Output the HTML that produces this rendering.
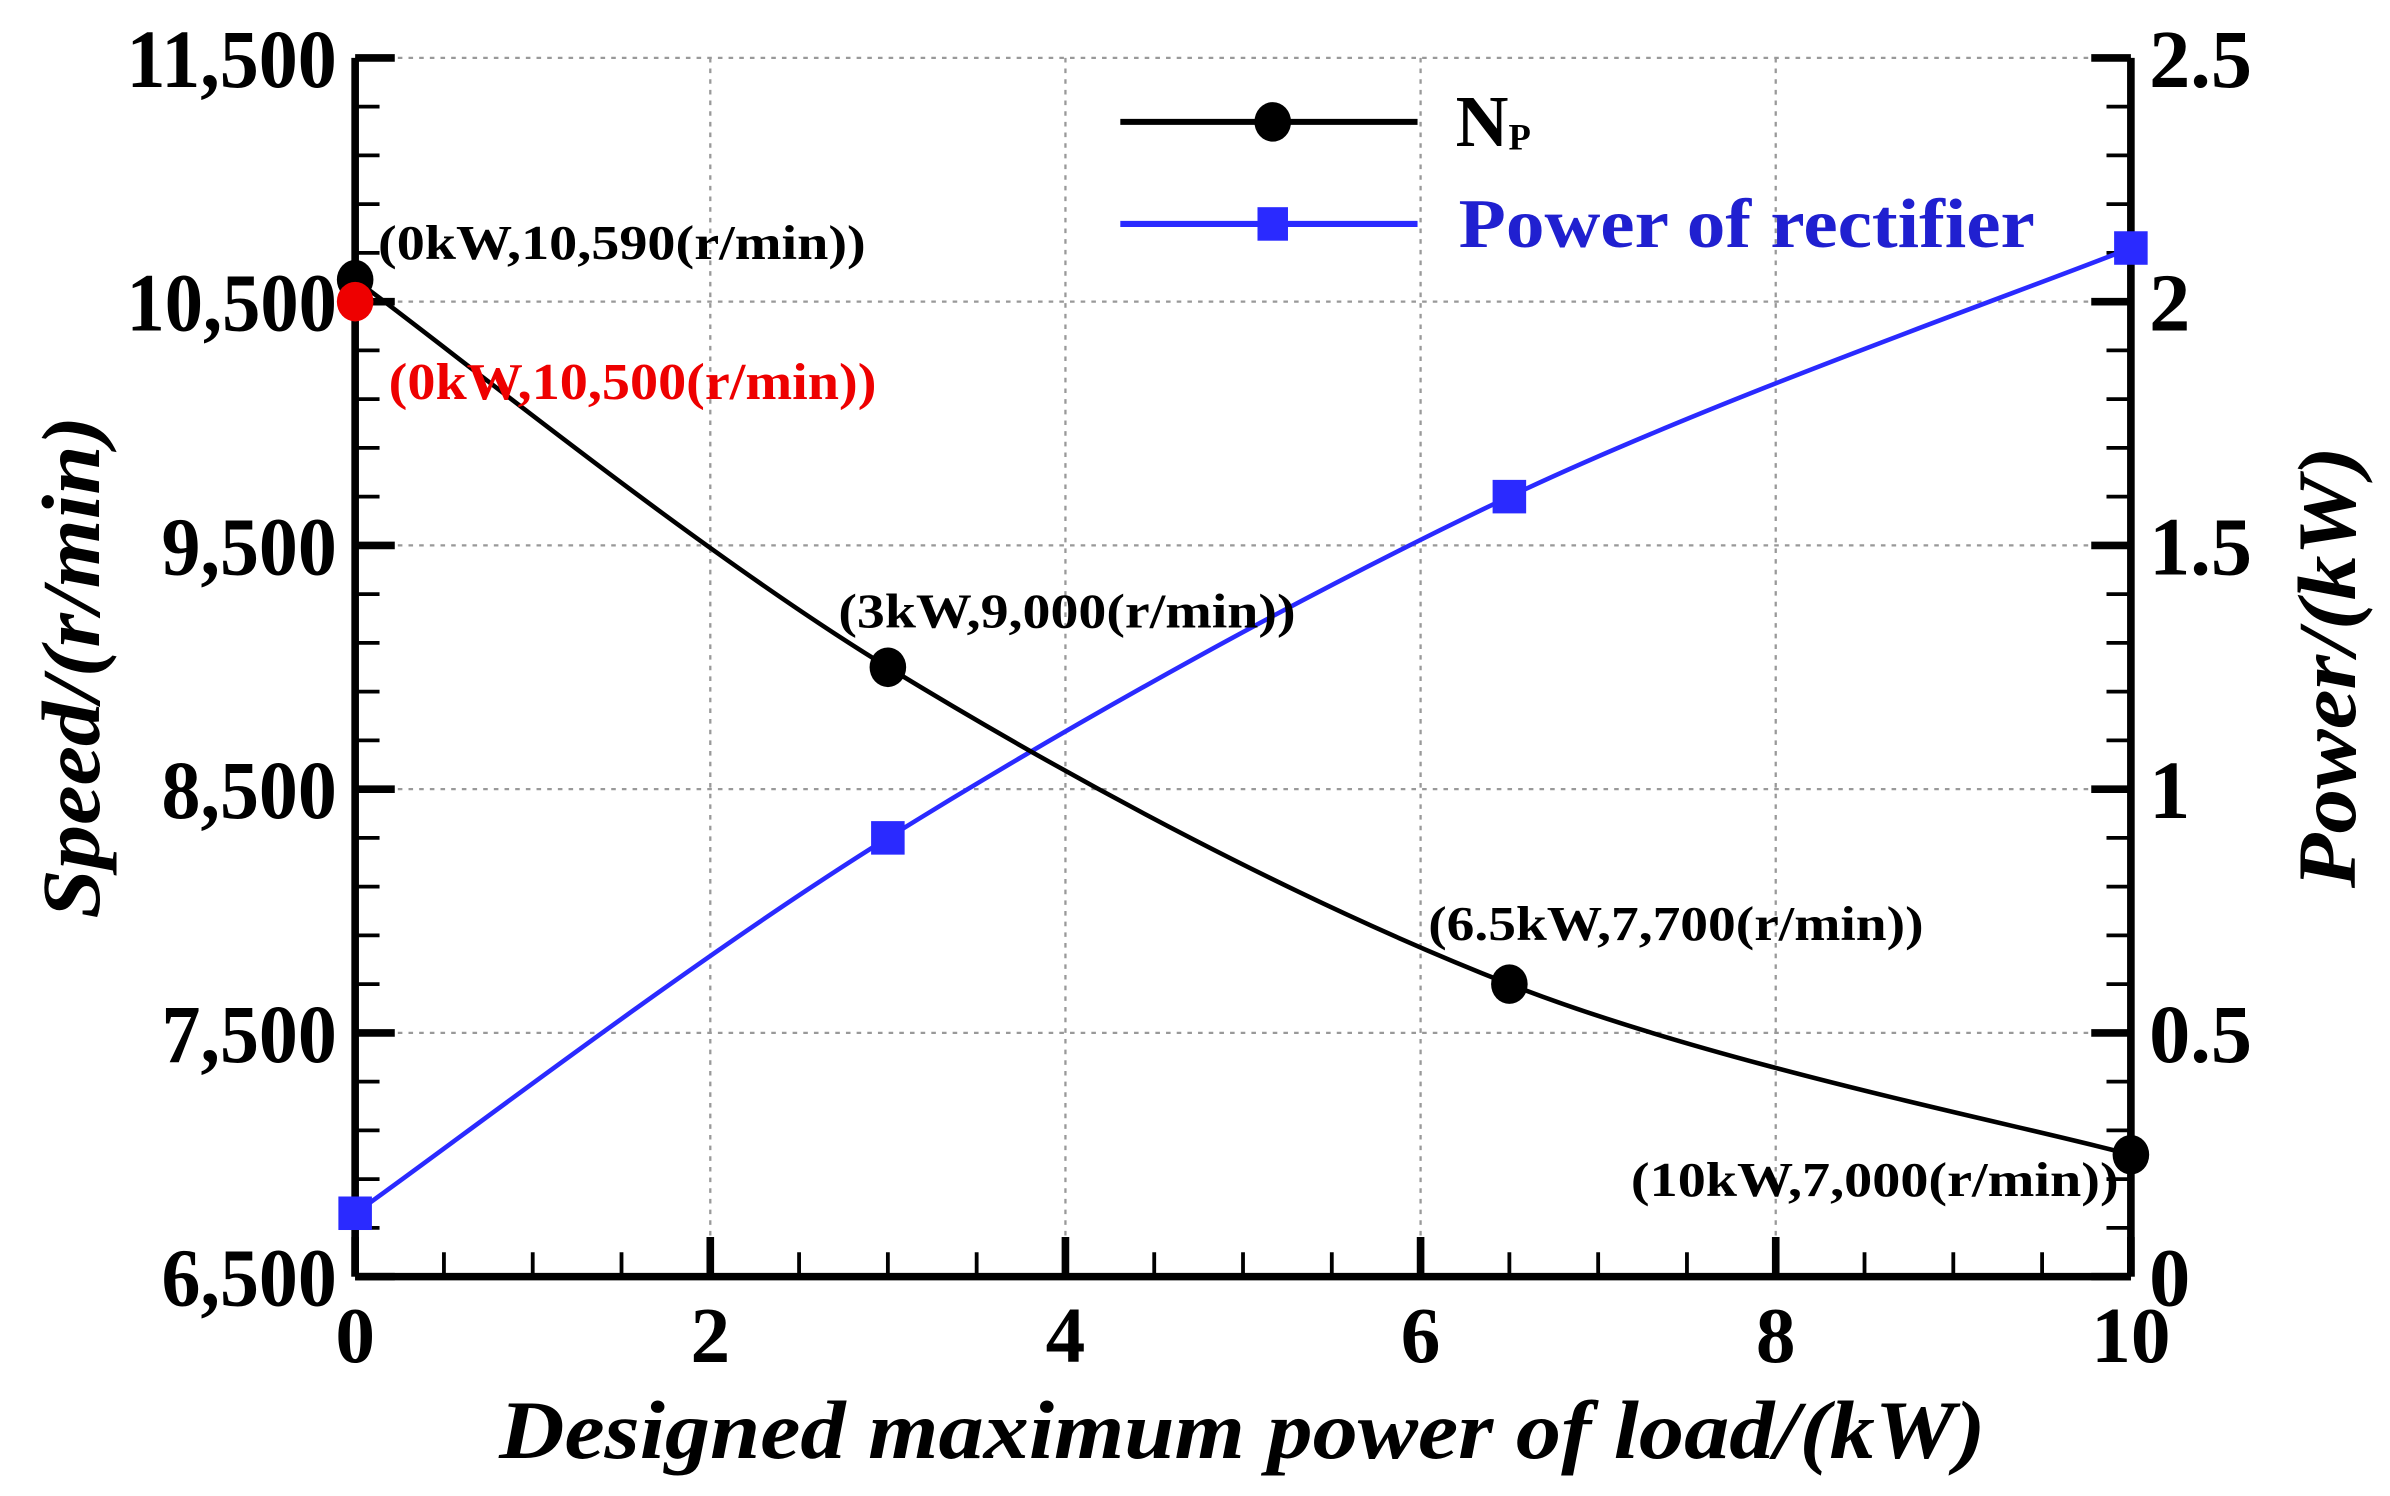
<!DOCTYPE html>
<html><head><meta charset="utf-8"><style>
html,body{margin:0;padding:0;background:#fff;}
svg{display:block;}
text{font-family:"Liberation Serif","Times New Roman",serif;font-weight:bold;}
</style></head><body>
<svg id="chart" width="2390" height="1496" viewBox="0 0 1568 982" preserveAspectRatio="none" xmlns="http://www.w3.org/2000/svg">
<g id="grid"></g>
<g id="axes"></g>
<g id="series"></g>
<g id="labels"></g>
<g>
  <line x1="735" y1="80" x2="930" y2="80" stroke="#000" stroke-width="4"/>
  <ellipse cx="835" cy="80" rx="12" ry="13" fill="#000"/>
  <text x="955" y="96" font-size="48">N<tspan font-size="24" dy="2">P</tspan></text>
  <line x1="735" y1="147" x2="930" y2="147" stroke="#2a2aff" stroke-width="4"/>
  <rect x="825" y="136" width="20" height="22" fill="#2a2aff"/>
  <text x="957" y="162" font-size="46" fill="#2020d0" textLength="378" lengthAdjust="spacingAndGlyphs">Power of rectifier</text>
</g>
<text x="815" y="957" font-size="54" font-style="italic" text-anchor="middle" textLength="975" lengthAdjust="spacingAndGlyphs">Designed maximum power of load/(kW)</text>
<text transform="translate(65,438) rotate(-90)" font-size="54" font-style="italic" text-anchor="middle" textLength="330" lengthAdjust="spacingAndGlyphs">Speed/(r/min)</text>
<text transform="translate(1545,438) rotate(-90)" font-size="54" font-style="italic" text-anchor="middle" textLength="290" lengthAdjust="spacingAndGlyphs">Power/(kW)</text>
</svg>
<script>
const xTicks=[0,2,4,6,8,10];
const speedTicks=[6500,7500,8500,9500,10500,11500];
const speedTickLabels=["6,500","7,500","8,500","9,500","10,500","11,500"];
const powerTicks=[0,0.5,1,1.5,2,2.5];
const powerTickLabels=["0","0.5","1","1.5","2","2.5"];
const loadKW=[0,3,6.5,10];
const speedNp=[10590,9000,7700,7000];
const powerRect=[0.13,0.9,1.6,2.11];
const annotations=["(0kW,10,590(r/min))","(3kW,9,000(r/min))","(6.5kW,7,700(r/min))","(10kW,7,000(r/min))"];
const refPoint=[0,10500];
const refLabel="(0kW,10,500(r/min))";

const L=233,R=1398,T=38,B=838;
const X=v=>L+(v-0)/(10-0)*(R-L);
const YS=v=>B-(v-6500)/(11500-6500)*(B-T);
const YP=v=>B-(v-0)/2.5*(B-T);
const NS="http://www.w3.org/2000/svg";
function mk(tag,attrs,parent){const e=document.createElementNS(NS,tag);for(const k in attrs)e.setAttribute(k,attrs[k]);document.getElementById(parent).appendChild(e);return e;}

xTicks.slice(1,-1).forEach(v=>{const e=mk('line',{x1:X(v),x2:X(v),y1:T,y2:B,stroke:'#999','stroke-width':1.5,'stroke-dasharray':'3,4'},'grid');

});
speedTicks.slice(1).forEach(v=>{const e=mk('line',{x1:L,x2:R,y1:YS(v),y2:YS(v),stroke:'#999','stroke-width':1.5,'stroke-dasharray':'3,4'},'grid');

});

[[L,T,L,B,'left-y-axis'],[R,T,R,B,'right-y-axis'],[L,B,R,B,'x-axis']].forEach(a=>{const e=mk('line',{x1:a[0],y1:a[1],x2:a[2],y2:a[3],stroke:'#000','stroke-width':5},'axes');

});
for(let v=0;v<=10.001;v+=0.5){const maj=Math.abs(v/2-Math.round(v/2))<1e-6;const e=mk('line',{x1:X(v),x2:X(v),y1:B,y2:B-(maj?26:16),stroke:'#000','stroke-width':maj?5:2.5},'axes');

}
for(let v=6500;v<=11500;v+=200){const maj=(v-6500)%1000===0;const e=mk('line',{x1:L,x2:L+(maj?26:16),y1:YS(v),y2:YS(v),stroke:'#000','stroke-width':maj?5:2.5},'axes');

}
for(let i=0;i<=25;i++){const v=i/10;const maj=i%5===0;const e=mk('line',{x1:R,x2:R-(maj?26:16),y1:YP(v),y2:YP(v),stroke:'#000','stroke-width':maj?5:2.5},'axes');

}
xTicks.forEach(v=>{const e=mk('text',{x:X(v),y:B+56,'font-size':52,'text-anchor':'middle'},'labels');e.textContent=String(v);

});
speedTicks.forEach((v,i)=>{const lab=speedTickLabels[i];const e=mk('text',{x:L-12,y:YS(v)+19,'font-size':54,'text-anchor':'end',textLength:lab.length*23,lengthAdjust:'spacingAndGlyphs'},'labels');e.textContent=lab;

});
powerTicks.forEach((v,i)=>{const e=mk('text',{x:R+12,y:YP(v)+19,'font-size':54},'labels');e.textContent=powerTickLabels[i];

});

function spline(pts){let d='M'+pts[0][0]+','+pts[0][1];for(let i=0;i<pts.length-1;i++){const p0=pts[Math.max(i-1,0)],p1=pts[i],p2=pts[i+1],p3=pts[Math.min(i+2,pts.length-1)];
const c1=[p1[0]+(p2[0]-p0[0])/6,p1[1]+(p2[1]-p0[1])/6],c2=[p2[0]-(p3[0]-p1[0])/6,p2[1]-(p3[1]-p1[1])/6];d+=' C'+c1+' '+c2+' '+p2;}return d;}
const pp=loadKW.map((x,i)=>[X(x),YP(powerRect[i])]);
let e=mk('path',{d:spline(pp),fill:'none',stroke:'#2a2aff','stroke-width':3},'series');


const sp=loadKW.map((x,i)=>[X(x),YS(speedNp[i])]);
e=mk('path',{d:spline(sp),fill:'none',stroke:'#000','stroke-width':3},'series');


pp.forEach(p=>{const r=mk('rect',{x:p[0]-11,y:p[1]-11,width:22,height:22,fill:'#2a2aff'},'series');

});
sp.forEach(p=>{const c=mk('ellipse',{cx:p[0],cy:p[1],rx:12,ry:13,fill:'#000'},'series');

});
const rc=mk('ellipse',{cx:X(refPoint[0]),cy:YS(refPoint[1]),rx:12,ry:13,fill:'#ee0000'},'series');


const annPos=[[248,170,320],[550,412,300],[937,617,325],[1070,785,320]];
annotations.forEach((t,i)=>{const a=annPos[i];const tx=mk('text',{x:a[0],y:a[1],'font-size':32,textLength:a[2],lengthAdjust:'spacingAndGlyphs'},'labels');tx.textContent=t;

});
const rt=mk('text',{x:255,y:262,'font-size':34,fill:'#ee0000',textLength:320,lengthAdjust:'spacingAndGlyphs'},'labels');rt.textContent=refLabel;


</script>
</body></html>
